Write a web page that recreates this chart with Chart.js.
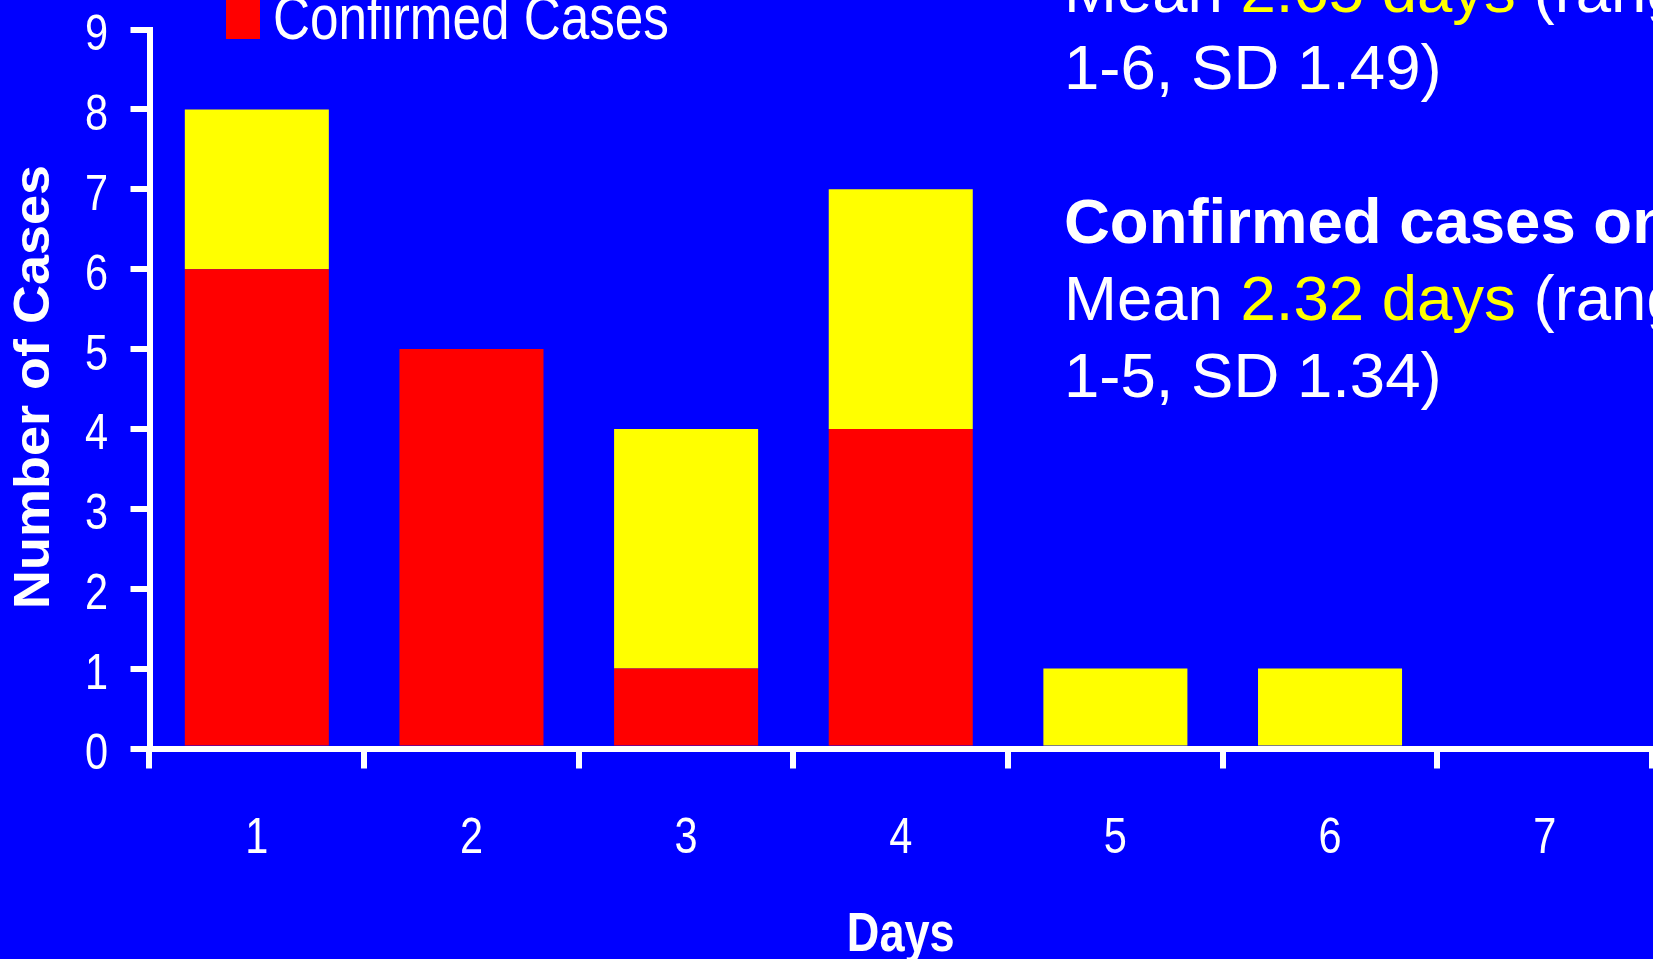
<!DOCTYPE html>
<html>
<head>
<meta charset="utf-8">
<script src="https://cdn.jsdelivr.net/npm/chart.js@4/dist/chart.umd.min.js"></script>
<style>
  html, body { margin: 0; padding: 0; background: #0000ff; overflow: hidden; }
  canvas { display: block; }
</style>
</head>
<body>
<canvas id="chart" width="1653" height="959"></canvas>
<script>
// Days from onset, and case counts per day
const days = ['1', '2', '3', '4', '5', '6', '7'];
const confirmedCases = [6, 5, 1, 4, 0, 0, 0];
const otherCases = [2, 0, 3, 3, 1, 1, 0];
const yTickValues = [0, 1, 2, 3, 4, 5, 6, 7, 8, 9];
const xAxisTitle = 'Days';
const yAxisTitle = 'Number of Cases';

// Summary statistics text, one array of [text, colour-key] segments per line
const summaryLines = [
  [['Mean ', 'w'], ['2.65 days', 'y'], [' (range', 'w']],
  [['1-6, SD 1.49)', 'w']],
  [],
  [['Confirmed cases only', 'wb']],
  [['Mean ', 'w'], ['2.32 days', 'y'], [' (range', 'w']],
  [['1-5, SD 1.34)', 'w']]
];

const BLUE = '#0000ff';
const RED = '#ff0000';
const YELLOW = '#ffff00';
const WHITE = '#ffffff';
const SANS = '"Liberation Sans", Arial, Helvetica, sans-serif';
const CONDENSE = 0.83;   // horizontal squeeze for the narrow chart lettering

// Write text squeezed horizontally around its anchor point
function condensedText(ctx, text, x, y, align, k) {
  ctx.save();
  ctx.translate(x, y);
  ctx.scale(k, 1);
  ctx.textAlign = align;
  ctx.fillText(text, 0, 0);
  ctx.restore();
}

const background = {
  id: 'background',
  beforeDraw(chart) {
    const ctx = chart.ctx;
    ctx.save();
    ctx.fillStyle = BLUE;
    ctx.fillRect(0, 0, chart.width, chart.height);
    ctx.restore();
  }
};

// Tick labels and axis titles in the condensed face, placed from the chart scales
const axisText = {
  id: 'axisText',
  afterDraw(chart) {
    const { ctx, scales: { x, y }, chartArea } = chart;
    ctx.save();
    ctx.fillStyle = WHITE;
    ctx.textBaseline = 'alphabetic';

    ctx.font = '50px ' + SANS;
    y.ticks.forEach(t => {
      const py = y.getPixelForValue(t.value);
      condensedText(ctx, String(t.value), 108, py + 20.5, 'right', CONDENSE);
    });
    x.ticks.forEach((t, i) => {
      const px = x.getPixelForTick(i);
      condensedText(ctx, x.getLabelForValue(t.value), px, 852.5, 'center', CONDENSE);
    });

    ctx.font = 'bold 55px ' + SANS;
    condensedText(ctx, xAxisTitle, (chartArea.left + chartArea.right) / 2, 951, 'center', 0.82);

    ctx.font = 'bold 54px ' + SANS;
    ctx.translate(49, (chartArea.top + chartArea.bottom) / 2 - 2);
    ctx.scale(0.93, 1);
    ctx.rotate(-Math.PI / 2);
    ctx.textAlign = 'center';
    ctx.fillText(yAxisTitle, 0, 0);
    ctx.restore();
  }
};

// Legend entry for the confirmed series and the statistics block on the right
const annotations = {
  id: 'annotations',
  afterDraw(chart) {
    const ctx = chart.ctx;
    ctx.save();
    const ds = chart.data.datasets[0];
    ctx.fillStyle = ds.backgroundColor;
    ctx.fillRect(226, -3, 34, 42);
    ctx.fillStyle = WHITE;
    ctx.textBaseline = 'alphabetic';
    ctx.font = '62.5px ' + SANS;
    condensedText(ctx, ds.label, 273, 39, 'left', 0.82);

    const x0 = 1064;
    const baseline0 = 12;
    const lineStep = 77;
    ctx.textAlign = 'left';
    summaryLines.forEach((segs, i) => {
      let x = x0;
      const y = baseline0 + i * lineStep;
      segs.forEach(([text, key]) => {
        ctx.font = (key === 'wb' ? 'bold ' : '') + '63.5px ' + SANS;
        ctx.fillStyle = key === 'y' ? YELLOW : WHITE;
        ctx.fillText(text, x, y);
        x += ctx.measureText(text).width;
      });
    });
    ctx.restore();
  }
};

new Chart(document.getElementById('chart'), {
  type: 'bar',
  data: {
    labels: days,
    datasets: [
      { label: 'Confirmed Cases', data: confirmedCases, backgroundColor: RED, borderWidth: 0 },
      { label: 'Other Cases', data: otherCases, backgroundColor: YELLOW, borderWidth: 0 }
    ]
  },
  options: {
    responsive: false,
    animation: false,
    devicePixelRatio: 1,
    layout: { padding: { left: 0, right: 1, top: 29.5, bottom: 0 } },
    datasets: { bar: { barPercentage: 0.671, categoryPercentage: 1.0 } },
    plugins: {
      legend: { display: false },
      tooltip: { enabled: false }
    },
    scales: {
      x: {
        stacked: true,
        offset: true,
        grid: { offset: true, drawOnChartArea: false, drawTicks: true, tickLength: 20, color: WHITE, lineWidth: 6 },
        border: { display: true, color: WHITE, width: 6 },
        ticks: { display: false },
        afterFit(scale) { scale.height = 210.5; }
      },
      y: {
        stacked: true,
        min: 0,
        max: 9,
        afterBuildTicks(scale) { scale.ticks = yTickValues.map(v => ({ value: v })); },
        grid: { drawOnChartArea: false, drawTicks: true, tickLength: 19, color: WHITE, lineWidth: 6 },
        border: { display: true, color: WHITE, width: 6 },
        ticks: { display: false },
        afterFit(scale) { scale.width = 149.5; }
      }
    }
  },
  plugins: [background, axisText, annotations]
});
</script>
</body>
</html>
